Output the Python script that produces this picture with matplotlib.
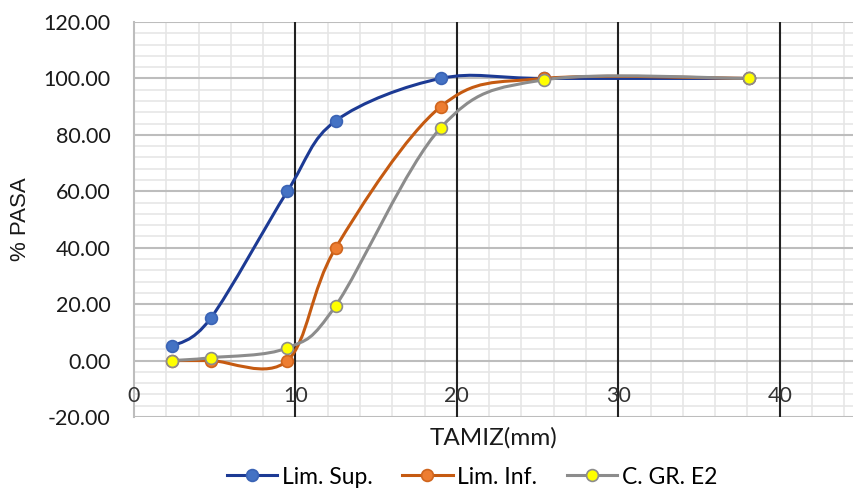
import numpy as np
import matplotlib.pyplot as plt
from matplotlib.path import Path
from matplotlib.patches import PathPatch
from matplotlib.lines import Line2D
from matplotlib.ticker import MultipleLocator, FormatStrFormatter

plt.rcParams['font.family'] = ['Lato', 'DejaVu Sans']

# sieve openings (mm) and % passing
tamiz = [2.36, 4.75, 9.5, 12.5, 19.0, 25.4, 38.1]
lim_sup = [5.0, 15.0, 60.0, 85.0, 100.0, 100.0, 100.0]
lim_inf = [0.0, 0.0, 0.0, 40.0, 90.0, 100.0, 100.0]
c_gr_e2 = [0.0, 1.0, 4.5, 19.5, 82.5, 99.5, 100.0]
labels = ['Lim. Sup.', 'Lim. Inf.', 'C. GR. E2']
xticks = [0, 10, 20, 30, 40]


def smooth_path(x, y):
    # Excel-like smoothed line: cubic Bezier through every point
    pts = np.column_stack([x, y])
    n = len(pts)
    verts = [pts[0]]
    codes = [Path.MOVETO]
    for i in range(n - 1):
        p0 = pts[max(i - 1, 0)]
        p1 = pts[i]
        p2 = pts[i + 1]
        p3 = pts[min(i + 2, n - 1)]
        c1 = p1 + (p2 - p0) / 6.0
        c2 = p2 - (p3 - p1) / 6.0
        verts += [c1, c2, p2]
        codes += [Path.CURVE4] * 3
    return Path(verts, codes)


fig = plt.figure(figsize=(8.54, 4.97), dpi=100)
ax_w = 1 - 134 / 854
ax = fig.add_axes([134 / 854, 80 / 497, ax_w, 395 / 497])

series = [
    (lim_sup, '#1C3A94', '#4472C4', '#3A63B5'),
    (lim_inf, '#C55A11', '#ED7D31', '#D0651D'),
    (c_gr_e2, '#8C8C8C', '#FFFF00', '#8C8C8C'),
]
handles = []
for (yv, lc, mfc, mec), lab in zip(series, labels):
    ax.add_patch(PathPatch(smooth_path(tamiz, yv), facecolor='none',
                           edgecolor=lc, lw=2.2, zorder=3))
    ax.plot(tamiz, yv, ls='none', marker='o', ms=8.5, mfc=mfc, mec=mec,
            mew=1.2, zorder=4)
    handles.append(Line2D([], [], color=lc, lw=2.2, marker='o', ms=8.5,
                          mfc=mfc, mec=mec, mew=1.2))

ax.set_xlim(0, 44.6)
ax.set_ylim(-20, 120)
ax.xaxis.set_major_locator(MultipleLocator(10))
ax.xaxis.set_minor_locator(MultipleLocator(2))
ax.yaxis.set_major_locator(MultipleLocator(20))
ax.yaxis.set_minor_locator(MultipleLocator(4))
ax.yaxis.set_major_formatter(FormatStrFormatter('%.2f'))

ax.grid(which='minor', color='#E6E6E6', lw=1.2)
ax.grid(which='major', axis='y', color='#BDBDBD', lw=1.5)
for xv in xticks[1:]:
    ax.axvline(xv, color='#222222', lw=1.5, zorder=2)

for s in ['top', 'right', 'bottom']:
    ax.spines[s].set_visible(False)
ax.spines['left'].set_color('#BDBDBD')
ax.spines['left'].set_linewidth(1.5)

ax.tick_params(which='both', length=0)
ax.tick_params(axis='y', labelsize=15.5, pad=17, labelcolor='#1A1A1A')
ax.set_xticklabels([])
for xv in xticks:
    ax.text(xv, -12.5, str(xv), ha='center', va='center', fontsize=15.5,
            color='#333333', zorder=5)

ax.set_xlabel('TAMIZ(mm)', fontsize=17.5, color='#1A1A1A', labelpad=4)
ax.set_ylabel('% PASA', fontsize=16, color='#1A1A1A',
              family=['Liberation Sans', 'DejaVu Sans'])
ax.yaxis.set_label_coords((31 - 134) / 854 / ax_w, 0.5)

fig.legend(handles, labels, loc='center', bbox_to_anchor=(472 / 854, 20 / 497),
           ncol=3, frameon=False, fontsize=16.5, handlelength=2.2,
           columnspacing=1.3, handletextpad=0.2)

fig.savefig('out.png', dpi=100)
